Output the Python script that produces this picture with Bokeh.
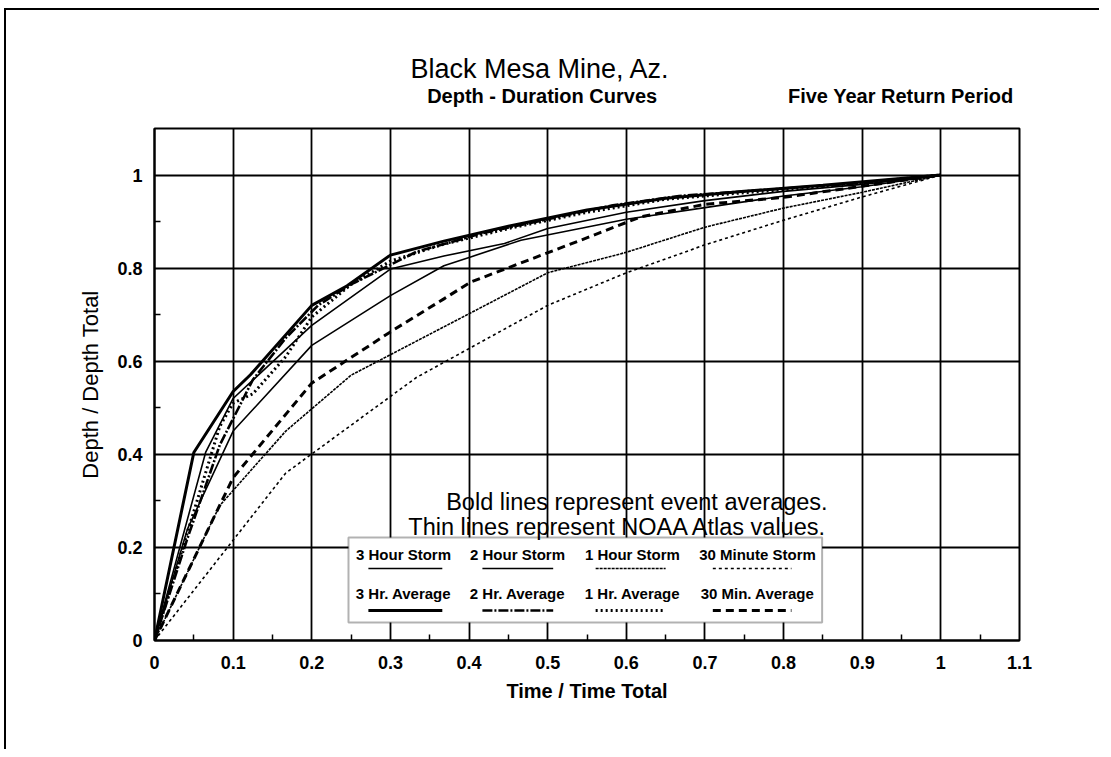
from bokeh.plotting import figure
from bokeh.models import FixedTicker, Label, BoxAnnotation, Range1d, LinearAxis
from bokeh.embed import file_html
from bokeh.resources import INLINE

# ---- data ----
x_3hr_avg = [0, 0.05, 0.1, 0.122, 0.2, 0.245, 0.3, 0.368, 0.45, 0.55, 0.65, 0.75, 0.85, 1.0]
y_3hr_avg = [0, 0.404, 0.535, 0.571, 0.72, 0.762, 0.828, 0.858, 0.89, 0.925, 0.95, 0.965, 0.978, 1.0]

x_2hr_avg = [0, 0.042, 0.083, 0.125, 0.167, 0.208, 0.25, 0.333, 0.417, 0.5, 0.583, 0.667, 0.75, 0.833, 0.917, 1.0]
y_2hr_avg = [0, 0.22, 0.42, 0.56, 0.65, 0.72, 0.765, 0.835, 0.875, 0.905, 0.935, 0.955, 0.965, 0.975, 0.985, 1.0]

x_1hr_avg = [0, 0.083, 0.1, 0.125, 0.167, 0.2, 0.25, 0.3, 0.367, 0.45, 0.55, 0.65, 0.75, 0.85, 1.0]
y_1hr_avg = [0, 0.46, 0.51, 0.53, 0.61, 0.695, 0.765, 0.815, 0.851, 0.885, 0.92, 0.948, 0.962, 0.975, 1.0]

x_30min_avg = [0, 0.1, 0.2, 0.3, 0.368, 0.402, 0.542, 0.618, 0.7, 0.8, 1.0]
y_30min_avg = [0, 0.35, 0.553, 0.663, 0.734, 0.77, 0.86, 0.91, 0.937, 0.952, 1.0]

x_3hr_storm = [0, 0.065, 0.1, 0.2, 0.3, 0.368, 0.445, 0.5, 0.6, 0.7, 0.8, 0.9, 1.0]
y_3hr_storm = [0, 0.404, 0.52, 0.677, 0.798, 0.826, 0.853, 0.885, 0.92, 0.945, 0.965, 0.98, 1.0]

x_2hr_storm = [0, 0.042, 0.1, 0.2, 0.3, 0.368, 0.402, 0.466, 0.6, 0.7, 0.8, 0.9, 1.0]
y_2hr_storm = [0, 0.24, 0.45, 0.634, 0.741, 0.805, 0.824, 0.86, 0.905, 0.93, 0.955, 0.975, 1.0]

x_1hr_storm = [0, 0.083, 0.167, 0.25, 0.5, 0.6, 0.7, 0.8, 0.9, 1.0]
y_1hr_storm = [0, 0.29, 0.45, 0.57, 0.79, 0.834, 0.888, 0.929, 0.963, 1.0]

x_30min_storm = [0, 0.167, 0.333, 0.5, 0.6, 0.7, 0.8, 0.9, 1.0]
y_30min_storm = [0, 0.36, 0.565, 0.72, 0.79, 0.85, 0.903, 0.953, 1.0]

x_ticks = [0, 0.1, 0.2, 0.3, 0.4, 0.5, 0.6, 0.7, 0.8, 0.9, 1.0, 1.1]
x_tick_labels = ["0", "0.1", "0.2", "0.3", "0.4", "0.5", "0.6", "0.7", "0.8", "0.9", "1", "1.1"]
x_minor = [0.05, 0.15, 0.25, 0.35, 0.45, 0.55, 0.65, 0.75, 0.85, 0.95, 1.05]
y_ticks = [0, 0.2, 0.4, 0.6, 0.8, 1.0]
y_tick_labels = ["0", "0.2", "0.4", "0.6", "0.8", "1"]
y_minor = [0.1, 0.3, 0.5, 0.7, 0.9]

title_text = "Black Mesa Mine, Az."
subtitle_pos = [0.493, 0.949]
subtitle_text = ["Depth - Duration Curves", "Five Year Return Period"]

FONT = "Liberation Sans"

p = figure(width=1095, height=741, x_range=Range1d(0, 1.1), y_range=Range1d(0, 1.1),
           output_backend="svg", toolbar_location=None,
           min_border_left=148, min_border_right=82, min_border_top=118, min_border_bottom=111)
p.background_fill_color = "white"
p.border_fill_color = "white"
p.outline_line_color = "black"
p.outline_line_width = 2
p.styles = {"border-left": "2px solid black", "border-top": "2px solid black",
            "margin-left": "4px", "margin-top": "8px"}

for g, t in ((p.xgrid, x_ticks), (p.ygrid, y_ticks)):
    g.ticker = FixedTicker(ticks=t)
    g.grid_line_color = "black"
    g.grid_line_width = 1.8
    g.grid_line_alpha = 1.0

p.xaxis.ticker = FixedTicker(ticks=x_ticks, minor_ticks=x_minor)
p.yaxis.ticker = FixedTicker(ticks=y_ticks, minor_ticks=y_minor)
p.xaxis.major_label_overrides = {t: s for t, s in zip(x_ticks, x_tick_labels)}
p.yaxis.major_label_overrides = {t: s for t, s in zip(y_ticks, y_tick_labels)}
for ax in (p.xaxis[0], p.yaxis[0]):
    ax.axis_line_color = "black"
    ax.axis_line_width = 2
    ax.major_tick_in = 0
    ax.major_tick_out = 0
    ax.minor_tick_in = 6
    ax.minor_tick_out = 0
    ax.minor_tick_line_color = "black"
    ax.minor_tick_line_width = 1.5
    ax.major_label_text_font = FONT
    ax.major_label_text_font_size = "18px"
    ax.major_label_text_font_style = "bold"
    ax.major_label_text_color = "black"
    ax.axis_label_text_font = FONT
    ax.axis_label_text_color = "black"
p.xaxis.major_label_standoff = 15
p.yaxis.major_label_standoff = 12

p.xaxis.axis_label = "Time / Time Total"
p.xaxis.axis_label_text_font_size = "20px"
p.xaxis.axis_label_text_font_style = "bold"
p.xaxis.axis_label_standoff = 8
p.yaxis.axis_label = "Depth / Depth Total"
p.yaxis.axis_label_text_font_size = "22px"
p.yaxis.axis_label_text_font_style = "normal"
p.yaxis.axis_label_standoff = 11

# subtitle row (drawn as labels of an axis above the frame)
top_ax = LinearAxis(ticker=FixedTicker(ticks=subtitle_pos),
                    major_label_overrides={t: s for t, s in zip(subtitle_pos, subtitle_text)})
top_ax.axis_line_color = None
top_ax.major_tick_line_color = None
top_ax.minor_tick_line_color = None
top_ax.major_label_text_font = FONT
top_ax.major_label_text_font_size = "20px"
top_ax.major_label_text_font_style = "bold"
top_ax.major_label_text_color = "black"
top_ax.major_label_standoff = 16
p.add_layout(top_ax, "above")

p.title.text = title_text
p.title.align = "left"
p.title.offset = 256
p.title.text_font = FONT
p.title.text_font_size = "27px"
p.title.text_font_style = "normal"
p.title.text_color = "black"
p.title.standoff = -4

# ---- curves ----
series = [
    ("3 Hour Storm", x_3hr_storm, y_3hr_storm, 1.6, "solid"),
    ("2 Hour Storm", x_2hr_storm, y_2hr_storm, 1.6, "solid"),
    ("1 Hour Storm", x_1hr_storm, y_1hr_storm, 1.6, "3 1"),
    ("30 Minute Storm", x_30min_storm, y_30min_storm, 1.6, "3 3"),
    ("3 Hr. Average", x_3hr_avg, y_3hr_avg, 3.0, "solid"),
    ("2 Hr. Average", x_2hr_avg, y_2hr_avg, 2.6, "10 2 2 2"),
    ("1 Hr. Average", x_1hr_avg, y_1hr_avg, 3.0, "2 3"),
    ("30 Min. Average", x_30min_avg, y_30min_avg, 3.0, "8 5"),
]
for name, xs, ys, w, dash in series:
    p.line(xs, ys, line_color="black", line_width=w, line_dash=dash)

def lab(x, y, text, size, style="normal", align="center"):
    p.add_layout(Label(x=x, y=y, text=text, text_font=FONT, text_font_size=size,
                       text_font_style=style, text_align=align, text_baseline="middle",
                       text_color="black"))

lab(0.856, 0.297, "Bold lines represent event averages.", "23.5px", "normal", "right")
lab(0.856, 0.243, "Thin lines represent NOAA Atlas values.", "23.5px", "normal", "right")

# ---- legend (custom layout: label above sample line) ----
p.add_layout(BoxAnnotation(left=0.2467, right=0.849, bottom=0.0387, top=0.2213, level="underlay",
                           fill_color="white", fill_alpha=1.0, line_color="black", line_width=2))
col_x = [0.3166, 0.4616, 0.6078, 0.7668]
samp = [(0.272, 0.366), (0.417, 0.507), (0.561, 0.650), (0.710, 0.810)]
rows = [(0.185, 0.1547, series[:4]), (0.101, 0.0644, series[4:])]
for ty, sy, ser in rows:
    for cx, (a, b), (name, xs, ys, w, dash) in zip(col_x, samp, ser):
        lab(cx, ty, name, "15px", "bold")
        p.line([a, b], [sy, sy], line_color="black", line_width=w, line_dash=dash)

open("out.html", "w").write(file_html(p, INLINE))
